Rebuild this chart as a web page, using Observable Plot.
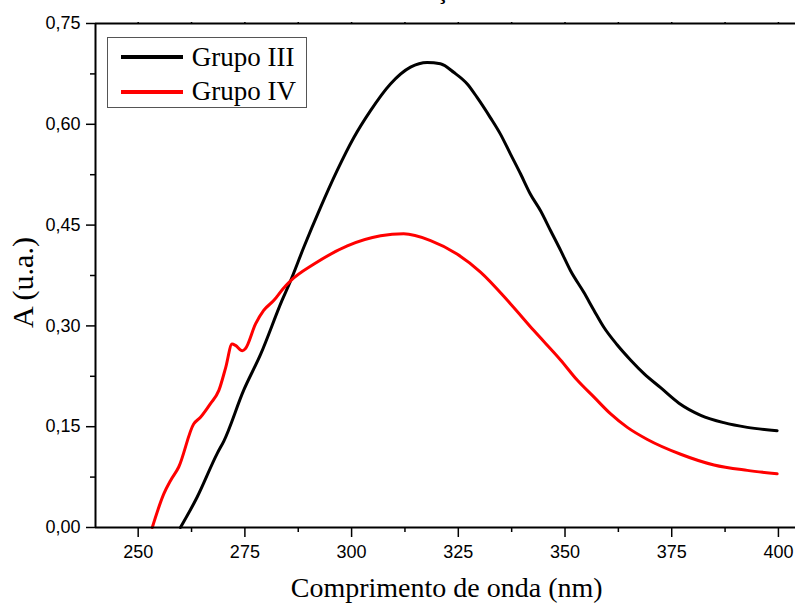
<!DOCTYPE html>
<html>
<head>
<meta charset="utf-8">
<script src="https://cdn.jsdelivr.net/npm/d3@7"></script>
<script src="https://cdn.jsdelivr.net/npm/@observablehq/plot@0.6"></script>
<style>
  html, body { margin: 0; padding: 0; background: #fff; }
  #wrap { position: relative; width: 795px; height: 604px; overflow: hidden; background: #fff; }
  #wrap svg { position: absolute; left: 0; top: 0; }
  .serif { font-family: "Liberation Serif", "Times New Roman", serif; color: #000; white-space: nowrap; position: absolute; }
  .legend-box { position: absolute; left: 107px; top: 37px; width: 200px; height: 71px; box-sizing: border-box; border: 1px solid #555; background: #fff; }
  .legend-line { position: absolute; left: 121px; width: 62px; height: 4px; }
</style>
</head>
<body>
<div id="wrap"></div>
<script>
// ---- data ----
const wavelengthIII = [259.9, 263.8, 268.5, 270.1, 274.7, 278.7, 283.7, 285.7, 288.8, 292.7, 296.6, 300.5, 304.4, 309.1, 313.8, 317.7, 320.8, 324.0, 327.1, 329.4, 332.5, 334.9, 337.2, 339.6, 341.9, 344.3, 346.6, 349.0, 351.3, 354.4, 356.8, 359.1, 362.2, 365.4, 368.5, 372.4, 376.7, 381.8, 387.2, 392.7, 399.7];
const absorbanceIII = [0.000, 0.045, 0.110, 0.129, 0.204, 0.258, 0.338, 0.367, 0.417, 0.476, 0.531, 0.580, 0.620, 0.660, 0.685, 0.692, 0.690, 0.677, 0.660, 0.640, 0.610, 0.585, 0.556, 0.526, 0.496, 0.471, 0.442, 0.412, 0.382, 0.350, 0.323, 0.298, 0.272, 0.249, 0.229, 0.208, 0.185, 0.167, 0.156, 0.149, 0.144];

const wavelengthIV = [253.3, 256.0, 257.6, 259.5, 263.0, 264.6, 266.9, 268.9, 270.5, 272.0, 272.8, 274.4, 275.1, 277.5, 279.4, 281.8, 283.9, 285.7, 291.2, 299.0, 306.8, 312.2, 318.5, 324.7, 330.2, 337.2, 342.7, 349.0, 352.9, 356.8, 360.7, 364.6, 369.3, 377.1, 384.9, 392.7, 399.7];
const absorbanceIV = [0.000, 0.050, 0.070, 0.090, 0.154, 0.164, 0.184, 0.204, 0.238, 0.273, 0.271, 0.263, 0.266, 0.303, 0.323, 0.338, 0.355, 0.367, 0.392, 0.419, 0.434, 0.437, 0.427, 0.407, 0.380, 0.333, 0.293, 0.249, 0.219, 0.194, 0.169, 0.149, 0.131, 0.109, 0.093, 0.085, 0.080];

const seriesNames = ["Grupo III", "Grupo IV"];
const seriesColors = ["#000000", "#ff0000"];

const majorXTicks = [250, 275, 300, 325, 350, 375, 400];
const minorXTicks = [262.5, 287.5, 312.5, 337.5, 362.5, 387.5];
const majorYTicks = [0, 0.15, 0.30, 0.45, 0.60, 0.75];
const minorYTicks = [0.075, 0.225, 0.375, 0.525, 0.675];

const xLabel = "Comprimento de onda (nm)";
const yLabel = "A (u.a.)";
const titleText = "Absorção";

// ---- build ----
const dataIII = wavelengthIII.map((x, i) => ({x, y: absorbanceIII[i]}));
const dataIV = wavelengthIV.map((x, i) => ({x, y: absorbanceIV[i]}));

const chart = Plot.plot({
  width: 795,
  height: 604,
  marginLeft: 95,
  marginRight: 0,
  marginTop: 23,
  marginBottom: 77,
  style: {fontFamily: "'Liberation Sans', Arial, sans-serif", fontSize: "18px", background: "transparent", color: "#000", overflow: "visible"},
  x: {domain: [240, 404], label: null},
  y: {domain: [0, 0.75], label: null},
  marks: [
    Plot.axisX({ticks: majorXTicks, tickSize: 10, tickPadding: 8, strokeWidth: 1.5, tickFormat: d => String(d), label: null}),
    Plot.axisX({ticks: minorXTicks, tickSize: 5, strokeWidth: 1.5, tickFormat: () => "", label: null}),
    Plot.axisX({anchor: "top", ticks: majorXTicks.concat(minorXTicks), tickSize: 2, strokeWidth: 1.5, tickFormat: () => "", label: null}),
    Plot.axisY({ticks: majorYTicks, tickSize: 9, tickPadding: 6, strokeWidth: 1.5, tickFormat: d => d.toFixed(2).replace(".", ","), label: null}),
    Plot.axisY({ticks: minorYTicks, tickSize: 5, strokeWidth: 1.5, tickFormat: () => "", label: null}),
    Plot.line(dataIII, {x: "x", y: "y", stroke: seriesColors[0], strokeWidth: 3, curve: "monotone-x"}),
    Plot.line(dataIV, {x: "x", y: "y", stroke: seriesColors[1], strokeWidth: 3, curve: "monotone-x"}),
    Plot.ruleX([240], {stroke: "#000", strokeWidth: 2}),
    Plot.ruleY([0, 0.75], {stroke: "#000", strokeWidth: 2})
  ]
});

const wrap = document.getElementById("wrap");
wrap.appendChild(chart);

function addDiv(cls, text, css) {
  const d = document.createElement("div");
  d.className = cls;
  if (text != null) d.textContent = text;
  Object.assign(d.style, css);
  wrap.appendChild(d);
  return d;
}

// title (cut off at the top edge, as in the reference)
addDiv("serif", titleText, {left: "380px", top: "-19px", fontSize: "22px", lineHeight: "22px", fontWeight: "bold"});

// axis titles
addDiv("serif", xLabel, {left: "446.7px", top: "573.5px", fontSize: "28px", lineHeight: "28px", transform: "translateX(-50%)"});
addDiv("serif", yLabel, {left: "0px", top: "0px", fontSize: "30px", lineHeight: "30px", transformOrigin: "0 0",
  transform: "translate(7.9px, 282.5px) rotate(-90deg) translate(-50%, 0)"});

// legend
addDiv("legend-box", null, {});
addDiv("legend-line", null, {top: "55.3px", background: seriesColors[0]});
addDiv("legend-line", null, {top: "90px", background: seriesColors[1]});
addDiv("serif", seriesNames[0], {left: "191.7px", top: "44.1px", fontSize: "27px", lineHeight: "27px"});
addDiv("serif", seriesNames[1], {left: "191.7px", top: "78.1px", fontSize: "27px", lineHeight: "27px"});
</script>
</body>
</html>
